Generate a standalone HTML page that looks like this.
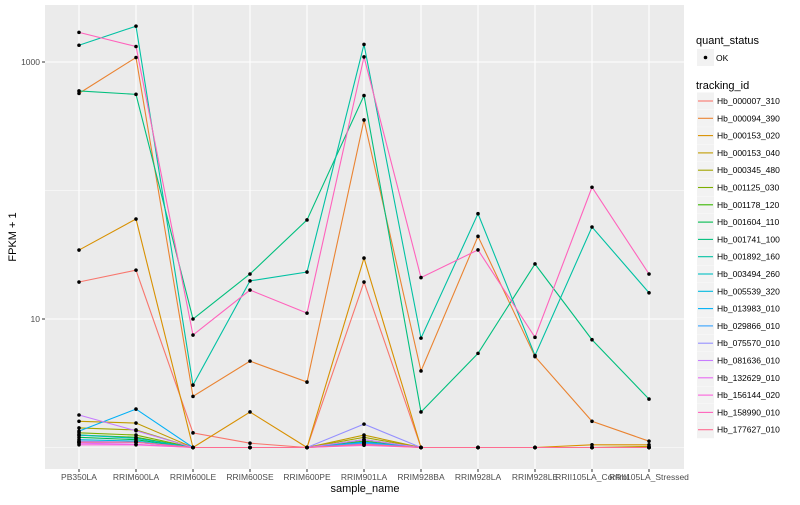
<!DOCTYPE html>
<html><head><meta charset="utf-8"><style>
body{margin:0;background:#fff;}
svg{font-family:"Liberation Sans",sans-serif;}
</style></head><body>
<svg id="c" width="800" height="500"></svg>
<script>
const samples=["PB350LA","RRIM600LA","RRIM600LE","RRIM600SE","RRIM600PE","RRIM901LA","RRIM928BA","RRIM928LA","RRIM928LE","RRII105LA_Control","RRII105LA_Stressed"];
const ids=["Hb_000007_310","Hb_000094_390","Hb_000153_020","Hb_000153_040","Hb_000345_480","Hb_001125_030","Hb_001178_120","Hb_001604_110","Hb_001741_100","Hb_001892_160","Hb_003494_260","Hb_005539_320","Hb_013983_010","Hb_029866_010","Hb_075570_010","Hb_081636_010","Hb_132629_010","Hb_156144_020","Hb_158990_010","Hb_177627_010"];
const colors=["#F8766D","#EA8331","#D89000","#C09B00","#A3A500","#7CAE00","#39B600","#00BB4E","#00BF7D","#00C1A3","#00BFC4","#00BAE0","#00B0F6","#35A2FF","#9590FF","#C77CFF","#E76BF3","#FA62DB","#FF62BC","#FF6C91"];
const values=[
[19.4,24,1.3,1.08,1,19.4,1,1,1,1,1],
[570,1084,2.5,4.7,3.23,354,3.94,44,5.1,1.6,1.12],
[34.4,60,1,1.89,1,29.8,1,1,1,1.05,1.05],
[1.6,1.55,1,1,1,1.25,1,1,1,1,1.02],
[1.42,1.37,1,1,1,1.2,1,1,1,1,1],
[1.3,1.25,1,1,1,1.15,1,1,1,1,1],
[1.25,1.2,1,1,1,1.12,1,1,1,1,1],
[1.2,1.15,1,1,1,1.1,1,1,1,1,1],
[595,560,10,22.4,59,548,1.89,5.4,26.8,6.9,2.38],
[1350,1900,3.06,19.8,23.2,1370,7.1,66,5.2,52,16],
[1.25,1.18,1,1,1,1.1,1,1,1,1,1],
[1.15,1.12,1,1,1,1.08,1,1,1,1,1],
[1.34,1.99,1,1,1,1.1,1,1,1,1,1],
[1.1,1.1,1,1,1,1.08,1,1,1,1,1],
[1.12,1.1,1,1,1,1.52,1,1,1,1,1],
[1.79,1.35,1,1,1,1.15,1,1,1,1,1],
[1.08,1.06,1,1,1,1.05,1,1,1,1,1],
[1.05,1.05,1,1,1,1.04,1,1,1,1,1],
[1700,1320,7.5,16.8,11.1,1095,21,34.5,7.2,106,22.4],
[1.1,1.1,1,1,1,1.06,1,1,1,1,1]
];
const yTicks=[10,1000];
const yMinor=[1,100];
const NS="http://www.w3.org/2000/svg";
const svg=document.getElementById('c');
const PL=45,PR=684,PT=5,PB=469;
function xs(i){return 79+i*57;}
function ys(v){return 447.5-128.5*Math.log10(v);}
function mk(t,a,p){const e=document.createElementNS(NS,t);for(const k in a)e.setAttribute(k,a[k]);(p||svg).appendChild(e);return e;}
const panel=mk('rect',{x:PL,y:PT,width:PR-PL,height:PB-PT,fill:'#EBEBEB'});


yMinor.forEach(v=>{mk('line',{x1:PL,x2:PR,y1:ys(v),y2:ys(v),stroke:'#fff','stroke-width':0.5});});
yTicks.forEach(v=>{mk('line',{x1:PL,x2:PR,y1:ys(v),y2:ys(v),stroke:'#fff','stroke-width':1.1});
 mk('line',{x1:PL-3,x2:PL,y1:ys(v),y2:ys(v),stroke:'#333','stroke-width':1});
 const t=mk('text',{x:PL-5,y:ys(v)+3,'text-anchor':'end','font-size':8.5,fill:'#4D4D4D'});t.textContent=v;
 
 });
samples.forEach((s,i)=>{mk('line',{x1:xs(i),x2:xs(i),y1:PT,y2:PB,stroke:'#fff','stroke-width':1.1});
 mk('line',{x1:xs(i),x2:xs(i),y1:PB,y2:PB+3,stroke:'#333','stroke-width':1});
 const t=mk('text',{x:xs(i),y:PB+11,'text-anchor':'middle','font-size':8.5,fill:'#4D4D4D'});t.textContent=s;
 
 });
values.forEach((row,k)=>{
 const p=mk('polyline',{points:row.map((v,i)=>xs(i)+','+ys(v)).join(' '),fill:'none',stroke:colors[k],'stroke-width':1.1});
 
 
});
values.forEach(row=>row.forEach((v,i)=>{
 const c=mk('circle',{cx:xs(i),cy:ys(v),r:1.8,fill:'#000'});
 
 
}));
let t=mk('text',{x:365,y:492,'text-anchor':'middle','font-size':11,fill:'#000'});t.textContent='sample_name';


t=mk('text',{x:0,y:0,'text-anchor':'middle','font-size':11,fill:'#000',transform:'translate(16,237) rotate(-90)'});t.textContent='FPKM + 1';


t=mk('text',{x:696,y:44,'font-size':11,fill:'#000'});t.textContent='quant_status';


mk('rect',{x:697,y:49,width:17,height:17,fill:'#F2F2F2'});
mk('circle',{cx:705.5,cy:57.5,r:1.8,fill:'#000'});
t=mk('text',{x:716,y:61,'font-size':8.5,fill:'#000'});t.textContent='OK';


t=mk('text',{x:696,y:89,'font-size':11,fill:'#000'});t.textContent='tracking_id';


ids.forEach((id,k)=>{const y=101+k*17.3;
 const g=mk('g',{});
 
 
 mk('rect',{x:697,y:y-8.5,width:17,height:17,fill:'#F2F2F2'},g);
 mk('line',{x1:698,x2:713,y1:y,y2:y,stroke:colors[k],'stroke-width':1.1},g);
 const tt=mk('text',{x:717,y:y+3,'font-size':8.5,fill:'#000'},g);tt.textContent=id;});
</script>
</body></html>
